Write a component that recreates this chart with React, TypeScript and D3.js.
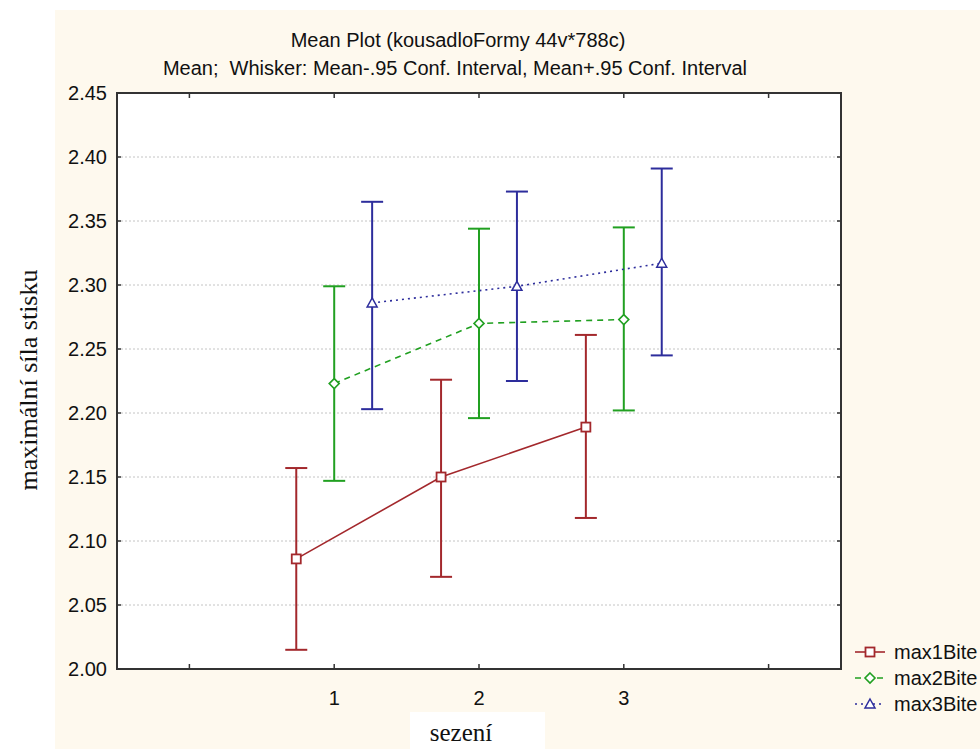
import React from "react";
import * as d3 from "d3";

const categories = [1, 2, 3];
const seriesNames = ["max1Bite", "max2Bite", "max3Bite"];
const means = [
  [2.086, 2.15, 2.189],
  [2.223, 2.27, 2.273],
  [2.286, 2.299, 2.317],
];
const lower = [
  [2.015, 2.072, 2.118],
  [2.147, 2.196, 2.202],
  [2.203, 2.225, 2.245],
];
const upper = [
  [2.157, 2.226, 2.261],
  [2.299, 2.344, 2.345],
  [2.365, 2.373, 2.391],
];
const yTicks = [2.0, 2.05, 2.1, 2.15, 2.2, 2.25, 2.3, 2.35, 2.4, 2.45];
const xTicks = [0, 1, 2, 3, 4];
const xTickLabels = ["", "1", "2", "3", ""];
const offsets = [-0.262, 0, 0.262];
const colors = ["#a3282c", "#21a021", "#2d2d9c"];
const dashes = ["none", "6,5", "2,4"];
const markers = ["square", "diamond", "triangle"];

const W = 980;
const H = 749;
const L = 117, R = 841, T = 93, B = 669;

function Marker({ type, x, y, color }: { type: string; x: number; y: number; color: string }) {
  if (type === "square") {
    return <rect x={x - 4.5} y={y - 4.5} width={9} height={9} fill="#fff" stroke={color} strokeWidth={1.8} />;
  }
  if (type === "diamond") {
    const s = 5;
    return (
      <path d={`M${x},${y - s}L${x + s},${y}L${x},${y + s}L${x - s},${y}Z`} fill="#fff" stroke={color} strokeWidth={1.6} />
    );
  }
  const s = 5;
  return (
    <path d={`M${x},${y - s}L${x + s},${y + s * 0.8}L${x - s},${y + s * 0.8}Z`} fill="#fff" stroke={color} strokeWidth={1.5} />
  );
}

export default function App() {
  const x = d3.scaleLinear().domain([-0.5, 4.5]).range([L, R]);
  const y = d3.scaleLinear().domain([2.0, 2.45]).range([B, T]);
  const line = d3
    .line<[number, number]>()
    .x((d) => x(d[0]))
    .y((d) => y(d[1]));
  const sans = "'Liberation Sans', Arial, sans-serif";
  const serif = "'Liberation Serif', 'Times New Roman', serif";
  const capW = 11;

  return (
    <svg width={W} height={H} style={{ position: "absolute", left: 0, top: 0, display: "block" }}>
      <rect x={0} y={0} width={W} height={H} fill="#fff" />
      <rect x={55} y={10} width={W - 55} height={H - 10} fill="#fef9ee" />
      <rect x={410} y={712} width={135} height={37} fill="#fff" />
      <rect x={L} y={T} width={R - L} height={B - T} fill="#fff" />

      {/* grid */}
      {yTicks.slice(1, -1).map((t) => (
        <line key={"g" + t} x1={L} x2={R} y1={y(t)} y2={y(t)} stroke="#c4c4c4" strokeWidth={1} strokeDasharray="2,2" />
      ))}

      {/* title */}
      <text x={458} y={47} textAnchor="middle" fontFamily={sans} fontSize={20} fill="#111">
        Mean Plot (kousadloFormy 44v*788c)
      </text>
      <text x={455} y={75} textAnchor="middle" fontFamily={sans} fontSize={20} fill="#111" style={{ whiteSpace: "pre" }}>
        {"Mean;  Whisker: Mean-.95 Conf. Interval, Mean+.95 Conf. Interval"}
      </text>

      {/* series */}
      {seriesNames.map((name, si) => {
        const pts: [number, number][] = categories.map((c, ci) => [c + offsets[si], means[si][ci]]);
        return (
          <g key={name}>
            {categories.map((c, ci) => {
              const cx = x(c + offsets[si]);
              return (
                <g key={ci} stroke={colors[si]} strokeWidth={2}>
                  <line x1={cx} x2={cx} y1={y(lower[si][ci])} y2={y(upper[si][ci])} />
                  <line x1={cx - capW} x2={cx + capW} y1={y(lower[si][ci])} y2={y(lower[si][ci])} />
                  <line x1={cx - capW} x2={cx + capW} y1={y(upper[si][ci])} y2={y(upper[si][ci])} />
                </g>
              );
            })}
            <path d={line(pts) || ""} fill="none" stroke={colors[si]} strokeWidth={1.6} strokeDasharray={dashes[si]} />
            {pts.map((p, i) => (
              <Marker key={i} type={markers[si]} x={x(p[0])} y={y(p[1])} color={colors[si]} />
            ))}
          </g>
        );
      })}

      {/* frame */}
      <rect x={L} y={T} width={R - L} height={B - T} fill="none" stroke="#333" strokeWidth={2} />

      {/* y ticks */}
      {yTicks.map((t) => (
        <g key={"y" + t}>
          <line x1={L} x2={L + 4} y1={y(t)} y2={y(t)} stroke="#333" strokeWidth={1.5} />
          <line x1={R - 4} x2={R} y1={y(t)} y2={y(t)} stroke="#333" strokeWidth={1.5} />
          <text x={107} y={y(t) + 7} textAnchor="end" fontFamily={sans} fontSize={20} fill="#111">
            {t.toFixed(2)}
          </text>
        </g>
      ))}

      {/* x ticks */}
      {xTicks.map((t, i) => (
        <g key={"x" + t}>
          <line x1={x(t)} x2={x(t)} y1={B} y2={B - 5} stroke="#333" strokeWidth={1.5} />
          <line x1={x(t)} x2={x(t)} y1={T} y2={T + 5} stroke="#333" strokeWidth={1.5} />
          <text x={x(t)} y={705} textAnchor="middle" fontFamily={sans} fontSize={20} fill="#111">
            {xTickLabels[i]}
          </text>
        </g>
      ))}

      {/* axis titles */}
      <text
        transform={`translate(37,380) rotate(-90)`}
        textAnchor="middle"
        fontFamily={serif}
        fontSize={26}
        fill="#111"
      >
        maximální síla stisku
      </text>
      <text x={461} y={741} textAnchor="middle" fontFamily={serif} fontSize={25} fill="#111">
        sezení
      </text>

      {/* legend */}
      {seriesNames.map((name, si) => {
        const ly = 652 + si * 26;
        return (
          <g key={"l" + name}>
            <line x1={855} x2={885} y1={ly} y2={ly} stroke={colors[si]} strokeWidth={1.6} strokeDasharray={dashes[si]} />
            <Marker type={markers[si]} x={870} y={ly} color={colors[si]} />
            <text x={894} y={ly + 7} fontFamily={sans} fontSize={20} fill="#111">
              {name}
            </text>
          </g>
        );
      })}
    </svg>
  );
}
